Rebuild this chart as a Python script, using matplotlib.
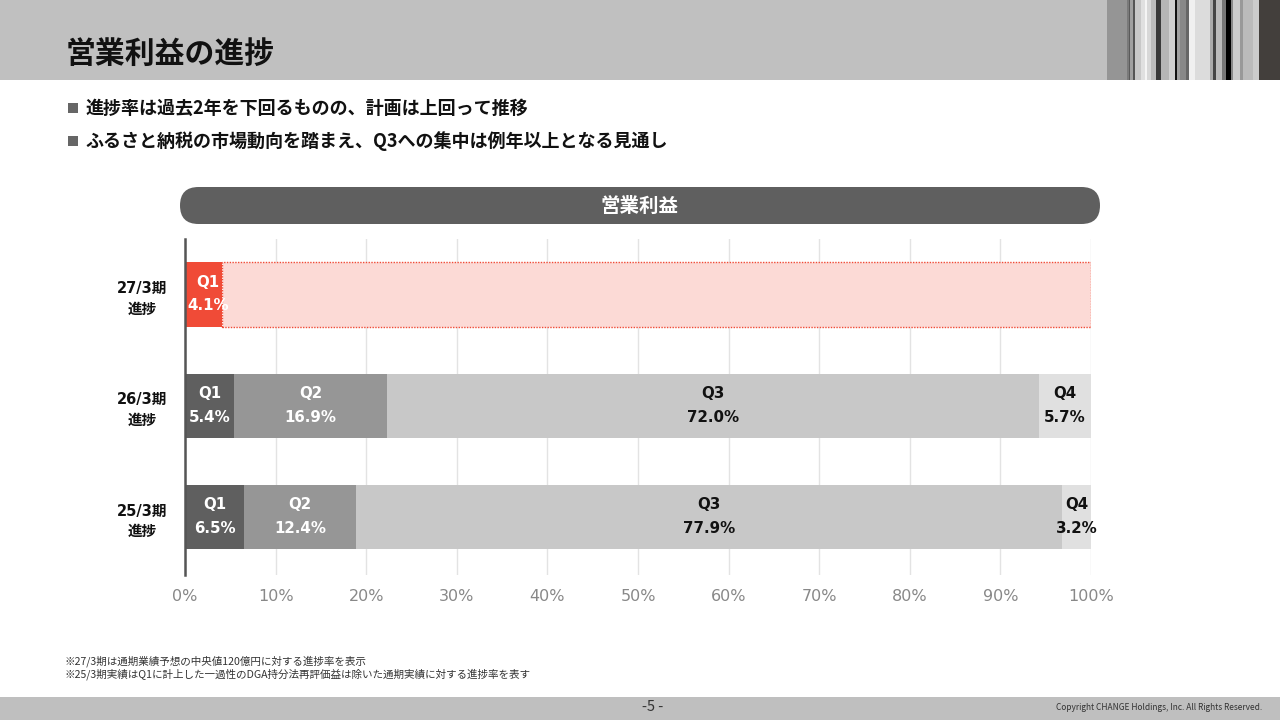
import matplotlib
matplotlib.use("Agg")
import matplotlib.pyplot as plt
from matplotlib.patches import FancyBboxPatch, Rectangle

plt.rcParams['font.family'] = ['Noto Sans CJK JP', 'DejaVu Sans']
LATIN = ['DejaVu Sans', 'Noto Sans CJK JP']

# ---- data ----
categories = ["25/3期\n進捗", "26/3期\n進捗", "27/3期\n進捗"]
quarters = ["Q1", "Q2", "Q3", "Q4"]
q1 = [6.5, 5.4, 4.1]
q2 = [12.4, 16.9, 0.0]
q3 = [77.9, 72.0, 0.0]
q4 = [3.2, 5.7, 0.0]
plan_remaining = [0.0, 0.0, 95.9]
tick_values = [0, 10, 20, 30, 40, 50, 60, 70, 80, 90, 100]
tick_labels = [f"{v}%" for v in tick_values]

title = "営業利益の進捗"
bullets = ["進捗率は過去2年を下回るものの、計画は上回って推移",
           "ふるさと納税の市場動向を踏まえ、Q3への集中は例年以上となる見通し"]
panel_title = "営業利益"
footnotes = ["※27/3期は通期業績予想の中央値120億円に対する進捗率を表示",
             "※25/3期実績はQ1に計上した一過性のDGA持分法再評価益は除いた通期実績に対する進捗率を表す"]
page_label = "-5 -"
copyright_text = "Copyright CHANGE Holdings, Inc. All Rights Reserved."

# decorative barcode stripes (relative width, colour)
stripes = [(20, "#959595"), (2, "#7a7a7a"), (1.3, "#5a5a5a"), (2.7, "#a0a0a0"), (2, "#555555"),
           (6.3, "#c8c8c8"), (3.3, "#e0e0e0"), (2.4, "#f5f5f5"), (4.3, "#d8d8d8"), (5, "#bdbdbd"),
           (4.3, "#3a3a3a"), (8, "#b5b5b5"), (6, "#d0d0d0"), (2.3, "#111111"), (2.7, "#a0a0a0"),
           (6.7, "#888888"), (2.7, "#666666"), (5.7, "#f0f0f0"), (15, "#dcdcdc"), (3.3, "#aaaaaa"),
           (2.7, "#444444"), (5.7, "#bbbbbb"), (4.3, "#777777"), (4.7, "#000000"), (2.7, "#888888"),
           (6.7, "#cccccc"), (3.3, "#999999"), (10, "#bbbbbb"), (6, "#cccccc"), (20.7, "#433f3c")]

W, H = 1280, 720
fig = plt.figure(figsize=(12.8, 7.2), dpi=100)
fig.patch.set_facecolor("white")

# background layer
bg = fig.add_axes([0, 0, 1, 1])
bg.set_xlim(0, W)
bg.set_ylim(H, 0)
bg.axis("off")

# header band
bg.add_patch(Rectangle((0, 0), 1107, 80, color="#c0c0c0", lw=0))
x0 = 1107
total = sum(w for w, _ in stripes)
for w, c in stripes:
    ww = w / total * (W - 1107)
    bg.add_patch(Rectangle((x0, 0), ww, 80, color=c, lw=0))
    x0 += ww
bg.text(66, 54, title, fontsize=21.5, fontweight="bold", color="#111111", va="center", ha="left")

# bullets
for i, b in enumerate(bullets):
    y = 108 + i * 33
    bg.add_patch(Rectangle((68, y - 5), 10, 10, color="#666666", lw=0))
    bg.text(85, y, b, fontsize=13, fontweight="bold", color="#111111", va="center", ha="left")

# pill
bg.add_patch(FancyBboxPatch((180, 187), 920, 37, boxstyle="round,pad=0,rounding_size=18.5",
                            mutation_aspect=1, facecolor="#5f5f5f", edgecolor="none"))
bg.text(640, 206, panel_title, fontsize=14, fontweight="bold", color="white", ha="center", va="center")

# footnotes
for i, f in enumerate(footnotes):
    bg.text(65, 661 + i * 13, f, fontsize=7.6, color="#333333", va="center", ha="left")

# footer band
bg.add_patch(Rectangle((0, 697), W, 23, color="#bfbfbf", lw=0))
bg.text(653, 707, page_label, fontsize=10.5, color="#333333", ha="center", va="center")
bg.text(1262, 708, copyright_text, fontsize=6, color="#333333", ha="right", va="center")

# chart axes
left, right, top, bottom = 185, 1091, 239, 575
ax = fig.add_axes([left / W, 1 - bottom / H, (right - left) / W, (bottom - top) / H])
ax.set_xlim(0, 100)
ax.set_ylim(-0.52, 2.5)
ax.set_facecolor("none")
for s in ["top", "right", "bottom"]:
    ax.spines[s].set_visible(False)
ax.spines["left"].set_color("#555555")
ax.spines["left"].set_linewidth(1.8)
ax.set_xticks(tick_values)
ax.set_xticklabels(tick_labels, fontsize=11.5, color="#888888", family=LATIN)
ax.tick_params(axis="x", length=0, pad=10)
ax.set_yticks(range(len(categories)))
ax.set_yticklabels(categories, fontsize=10.5, fontweight="bold", color="#111111",
                   linespacing=1.45, ha="center", family=LATIN)
ax.tick_params(axis="y", length=0, pad=31)
ax.grid(axis="x", color="#e3e3e3", lw=1)
ax.set_axisbelow(True)

ypos = list(range(len(categories)))
h = 0.58
colors = ["#5f5f5f", "#969696", "#c8c8c8", "#e0e0e0"]
txt_colors = ["white", "white", "#111111", "#111111"]
series = [q1, q2, q3, q4]

for yi in ypos:
    lefts = 0
    for qi, vals in enumerate(series):
        v = vals[yi]
        if v <= 0:
            continue
        if yi == 2:
            fc, tc = "#f04b37", "white"
        else:
            fc, tc = colors[qi], txt_colors[qi]
        ax.barh(yi, v, left=lefts, height=h, color=fc, lw=0, zorder=2)
        cx = lefts + v / 2
        if yi == 2:
            cx = lefts + v / 2 + 0.5
        ax.text(cx, yi + 0.11, quarters[qi], ha="center", va="center", fontsize=10.8, fontweight="bold",
                color=tc, zorder=4, family=LATIN)
        ax.text(cx, yi - 0.10, f"{v:.1f}%", ha="center", va="center", fontsize=10.8, fontweight="bold",
                color=tc, zorder=4, family=LATIN)
        lefts += v
    if plan_remaining[yi] > 0:
        ax.barh(yi, plan_remaining[yi], left=lefts, height=h, facecolor="#fcdad6",
                edgecolor="#f04b37", linestyle=(0, (1, 1)), lw=1, zorder=1.5)

fig.savefig("out.png", dpi=100)
